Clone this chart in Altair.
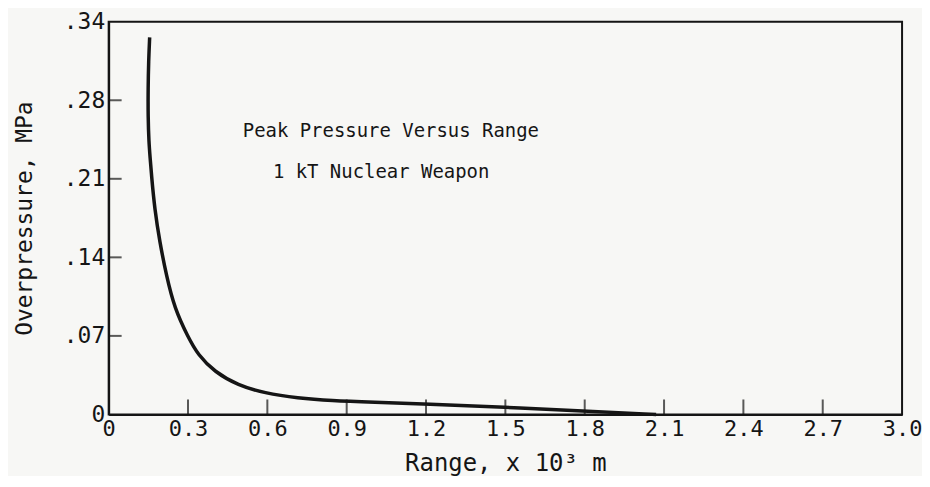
import altair as alt
import pandas as pd

# Curve (range in 10^3 m, overpressure in MPa)
range_km = [0.155, 0.151, 0.149, 0.149, 0.152, 0.157, 0.162, 0.174, 0.193, 0.218,
            0.249, 0.300, 0.338, 0.400, 0.489, 0.589, 0.715, 0.841, 1.000, 1.200,
            1.495, 1.797, 2.070]
pressure = [0.336, 0.315, 0.290, 0.265, 0.243, 0.228, 0.213, 0.183, 0.154, 0.124,
            0.0945, 0.069, 0.053, 0.038, 0.026, 0.019, 0.0145, 0.0122, 0.0108, 0.0092,
            0.0065, 0.0030, 0.0]

x_ticks = [0, 0.3, 0.6, 0.9, 1.2, 1.5, 1.8, 2.1, 2.4, 2.7, 3.0]
y_ticks = [0, 0.07, 0.14, 0.21, 0.28, 0.35]
x_inner_ticks = [0.3, 0.6, 0.9, 1.2, 1.5, 1.8, 2.1, 2.4, 2.7]
y_inner_ticks = [0.07, 0.14, 0.21, 0.28]

note_lines = ["Peak Pressure Versus Range", "1 kT Nuclear Weapon"]
note_x = [0.507, 0.621]
note_y = [0.253, 0.216]

FONT = "DejaVu Sans Mono"
W, H = 796, 394
INK = "#151515"

curve = pd.DataFrame({"x": range_km, "y": pressure, "o": list(range(len(range_km)))})
notes = pd.DataFrame({"t": note_lines, "x": note_x, "y": note_y})
xt = pd.DataFrame({"x": x_inner_ticks})
yt = pd.DataFrame({"y": y_inner_ticks})

xscale = alt.Scale(domain=[0, 3.0], nice=False, zero=False)
yscale = alt.Scale(domain=[0, 0.35], nice=False, zero=False)

xaxis = alt.Axis(values=x_ticks, ticks=False, tickSize=0, grid=False,
                 labelExpr="datum.value == 0 ? '0' : format(datum.value, '.1f')",
                 labelFont=FONT, labelFontSize=22, labelColor=INK, labelPadding=4,
                 title="Range, x 10³ m", titleFont=FONT, titleFontSize=24,
                 titleFontWeight="normal", titleColor=INK, titlePadding=12,
                 domainColor=INK, domainWidth=2, labelFlush=False)
yaxis = alt.Axis(values=y_ticks, ticks=False, tickSize=0, grid=False,
                 labelExpr="datum.value == 0 ? '0' : (datum.value > 0.34 ? '.34' : replace(format(datum.value, '.2f'), '0.', '.'))",
                 labelFont=FONT, labelFontSize=23, labelColor=INK, labelPadding=4,
                 title="Overpressure, MPa", titleFont=FONT, titleFontSize=23,
                 titleFontWeight="normal", titleColor=INK, titlePadding=27,
                 domainColor=INK, domainWidth=2, labelFlush=False)

line = alt.Chart(curve).mark_line(color=INK, strokeWidth=3.5, interpolate="basis").encode(
    x=alt.X("x:Q", scale=xscale, axis=xaxis),
    y=alt.Y("y:Q", scale=yscale, axis=yaxis),
    order="o:Q",
)

xtick_marks = alt.Chart(xt).mark_tick(color=INK, thickness=2, size=15, orient="vertical").encode(
    x=alt.X("x:Q", scale=xscale),
    y=alt.value(H - 7.5),
)
ytick_marks = alt.Chart(yt).mark_tick(color=INK, thickness=2, size=13, orient="horizontal").encode(
    y=alt.Y("y:Q", scale=yscale),
    x=alt.value(6.5),
)

text = alt.Chart(notes).mark_text(font=FONT, fontSize=19, color=INK, align="left",
                                    baseline="middle").encode(
    x=alt.X("x:Q", scale=xscale),
    y=alt.Y("y:Q", scale=yscale),
    text="t:N",
)

chart = alt.layer(line, xtick_marks, ytick_marks, text).properties(
    width=W, height=H,
    background="#f7f7f5",
    padding={"left": 5, "top": 2, "right": 0, "bottom": 0},
).configure_view(stroke=INK, strokeWidth=2)

chart.save("out.html", embed_options={"renderer": "svg", "actions": False})
